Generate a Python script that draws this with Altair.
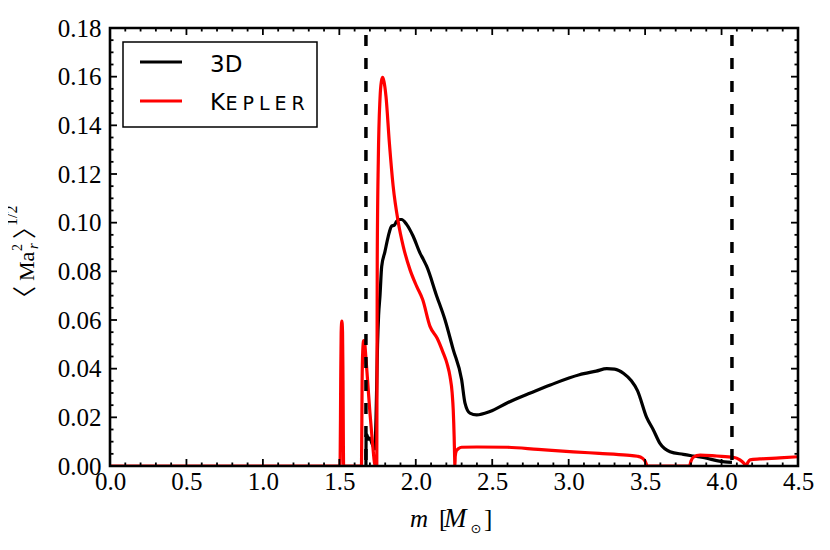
import altair as alt
import pandas as pd

# ---------------- data ----------------
kepler_m = [0.0, 1.505, 1.509, 1.512, 1.5165, 1.521, 1.524, 1.528,
            1.645, 1.649, 1.653, 1.659, 1.665, 1.672, 1.685, 1.700, 1.715, 1.725, 1.733,
            1.745, 1.748, 1.755, 1.766, 1.775, 1.783, 1.792, 1.805, 1.827, 1.852, 1.886,
            1.918, 1.962, 2.006, 2.045, 2.093, 2.140, 2.180, 2.205, 2.224, 2.238, 2.245,
            2.251, 2.254, 2.256, 2.258, 2.265, 2.280, 2.300, 2.400, 2.600, 2.800, 3.030,
            3.200, 3.380, 3.450, 3.480, 3.500, 3.515, 3.790, 3.800, 3.815, 3.860, 3.968,
            4.077, 4.120, 4.145, 4.160, 4.172, 4.186, 4.250, 4.380, 4.500]
kepler_v = [0.0, 0.0, 0.035, 0.055, 0.0595, 0.055, 0.035, 0.0,
            0.0, 0.035, 0.047, 0.0515, 0.051, 0.046, 0.035, 0.022, 0.011, 0.004, 0.0,
            0.0, 0.085, 0.126, 0.151, 0.158, 0.1597, 0.158, 0.152, 0.133, 0.115, 0.100,
            0.0903, 0.0807, 0.0738, 0.0684, 0.0574, 0.0525, 0.0464, 0.042, 0.0368, 0.030, 0.023,
            0.012, 0.004, 0.0, 0.004, 0.0062, 0.0072, 0.0077, 0.0078, 0.0077, 0.0068, 0.0058,
            0.0052, 0.0045, 0.0040, 0.0033, 0.0020, 0.0, 0.0, 0.0020, 0.0036, 0.0045, 0.0041,
            0.0036, 0.0025, 0.0012, 0.0, 0.0015, 0.0025, 0.0029, 0.0033, 0.0038]

d3_m = [1.674, 1.675, 1.680, 1.690, 1.700, 1.712, 1.722, 1.732, 1.740, 1.745, 1.750,
        1.757, 1.766, 1.777, 1.798, 1.820, 1.842, 1.860, 1.875, 1.895, 1.907, 1.940,
        1.983, 2.027, 2.050, 2.071, 2.136, 2.191, 2.245, 2.300, 2.322, 2.354, 2.398,
        2.485, 2.600, 2.750, 2.880, 3.070, 3.180, 3.250, 3.300, 3.360, 3.410, 3.450,
        3.510, 3.554, 3.597, 3.663, 3.750, 3.815, 3.903, 3.968, 4.020, 4.068]
d3_v = [0.0, 0.0125, 0.0128, 0.011, 0.0115, 0.0095, 0.008, 0.007, 0.020, 0.035, 0.050,
        0.062, 0.070, 0.082, 0.088, 0.0944, 0.0986, 0.099, 0.1006, 0.1013, 0.1013, 0.0993,
        0.0944, 0.0876, 0.0848, 0.0821, 0.070, 0.0601, 0.0478, 0.0354, 0.0258, 0.0217, 0.021,
        0.0224, 0.026, 0.030, 0.0333, 0.0375, 0.039, 0.040, 0.0398, 0.038, 0.035, 0.031,
        0.020, 0.0148, 0.0093, 0.0059, 0.0048, 0.0041, 0.0032, 0.0022, 0.0017, 0.0015]

dashed_m = [1.674, 4.068]

x_major = [0.0, 0.5, 1.0, 1.5, 2.0, 2.5, 3.0, 3.5, 4.0, 4.5]
x_minor = [round(i * 0.1, 1) for i in range(46) if i % 5 != 0]
y_major = [0.0, 0.02, 0.04, 0.06, 0.08, 0.10, 0.12, 0.14, 0.16, 0.18]
y_minor = [round(i * 0.005, 3) for i in range(37) if i % 4 != 0]

legend_labels = ["3D", "Kepler"]
series_colors = ["#000000", "#ff0000"]

# ---------------- layout ----------------
W, H = 688, 438
SERIF = "Liberation Serif"
SANS = "DejaVu Sans"

xs = alt.Scale(domain=[0, 4.5], nice=False, zero=False)
ys = alt.Scale(domain=[0, 0.18], nice=False, zero=False)

x_axis = alt.Axis(values=x_major, format=".1f", title=None, grid=False, ticks=False, domain=False,
                  labelFont=SERIF, labelFontSize=25, labelPadding=3, labelColor="black",
                  labelFlush=False, labelOverlap=False)
y_axis = alt.Axis(values=y_major, format=".2f", title=None, grid=False, ticks=False, domain=False,
                  labelFont=SERIF, labelFontSize=25, labelPadding=9, labelColor="black",
                  labelFlush=False, labelOverlap=False)

df3 = pd.DataFrame({"m": d3_m, "v": d3_v, "i": list(range(len(d3_m)))})
dfk = pd.DataFrame({"m": kepler_m, "v": kepler_v, "i": list(range(len(kepler_m)))})

line3 = alt.Chart(df3).mark_line(color=series_colors[0], strokeWidth=3.2, clip=True,
                                 interpolate="monotone").encode(
    x=alt.X("m:Q", scale=xs, axis=x_axis),
    y=alt.Y("v:Q", scale=ys, axis=y_axis),
    order="i:Q",
)

linek = alt.Chart(dfk).mark_line(color=series_colors[1], strokeWidth=3.2, clip=True,
                                 interpolate="monotone").encode(
    x=alt.X("m:Q", scale=xs, axis=x_axis),
    y=alt.Y("v:Q", scale=ys, axis=y_axis),
    order="i:Q",
)

dashed = alt.Chart(pd.DataFrame({"m": dashed_m})).mark_rule(
    color="black", strokeWidth=3.5, strokeDash=[11, 12], strokeDashOffset=16
).encode(x=alt.X("m:Q", scale=xs, axis=x_axis), y=alt.value(0), y2=alt.value(H))


def xticks(vals, length, top):
    y0 = 0 if top else H
    y1 = length if top else H - length
    return alt.Chart(pd.DataFrame({"m": vals})).mark_rule(color="black", strokeWidth=1.8).encode(
        x=alt.X("m:Q", scale=xs, axis=x_axis), y=alt.value(y0), y2=alt.value(y1))


def yticks(vals, length, right):
    x0 = W if right else 0
    x1 = W - length if right else length
    return alt.Chart(pd.DataFrame({"v": vals})).mark_rule(color="black", strokeWidth=1.8).encode(
        y=alt.Y("v:Q", scale=ys, axis=y_axis), x=alt.value(x0), x2=alt.value(x1))


ticks = [
    xticks(x_major, 7, False), xticks(x_minor, 3.5, False),
    xticks(x_major, 7, True), xticks(x_minor, 3.5, True),
    yticks(y_major, 7, False), yticks(y_minor, 3.5, False),
    yticks(y_major, 7, True), yticks(y_minor, 3.5, True),
]

one = pd.DataFrame({"a": [0]})

frame = alt.Chart(one).mark_rect(filled=False, stroke="black", strokeWidth=2.6).encode(
    x=alt.value(0), x2=alt.value(W), y=alt.value(0), y2=alt.value(H))


def txt(s, x, y, size, font=SERIF, style="normal", angle=0, align="left", baseline="alphabetic"):
    return alt.Chart(pd.DataFrame({"t": [s]})).mark_text(
        font=font, fontSize=size, fontStyle=style, angle=angle, align=align,
        baseline=baseline, color="black"
    ).encode(text="t:N", x=alt.value(x), y=alt.value(y))


# legend
leg_box = alt.Chart(one).mark_rect(fill="white", stroke="black", strokeWidth=1.5).encode(
    x=alt.value(13), x2=alt.value(207), y=alt.value(14), y2=alt.value(99))
leg_line0 = alt.Chart(one).mark_rule(color=series_colors[0], strokeWidth=3.2).encode(
    x=alt.value(30), x2=alt.value(72), y=alt.value(34))
leg_line1 = alt.Chart(one).mark_rule(color=series_colors[1], strokeWidth=3.2).encode(
    x=alt.value(30), x2=alt.value(72), y=alt.value(73))
leg_texts = [txt(legend_labels[0], 100, 44, 23, font=SANS),
             txt(legend_labels[1][0].upper(), 100, 82, 23, font=SANS)]
rest = legend_labels[1][1:].upper()
rest_x = [115.5, 132.5, 149.0, 164.5, 181.5]
for ch, xx in zip(rest, rest_x):
    leg_texts.append(txt(ch, xx, 82, 19, font=SANS))

# y-axis title  <Ma_r^2>^{1/2}
BR = "Noto Sans CJK JP"
ytitle = [
    txt("\u3008", -77, 282, 24, font=BR, angle=270),
    txt("Ma", -76, 253, 22, angle=270),
    txt("2", -88, 223, 14, angle=270),
    txt("r", -72.5, 221, 15, style="italic", angle=270),
    txt("\u3009", -77, 211, 24, font=BR, angle=270),
    txt("1/2", -93, 198, 16, angle=270),
]

# x-axis title  m [M_sun]
xtitle = [
    txt("m", 300, 499, 25, style="italic"),
    txt("[", 329, 499, 25),
    txt("M", 334, 499, 27, style="italic"),
    txt("\u2299", 366, 501, 13, font=SANS, align="center", baseline="middle"),
    txt("]", 374, 499, 25),
]

chart = alt.layer(
    line3, linek, dashed, *ticks, frame, leg_box, leg_line0, leg_line1, *leg_texts, *ytitle, *xtitle
).properties(
    width=W, height=H,
    autosize=alt.AutoSizeParams(type="none"),
    padding={"left": 102, "top": 20, "right": 24, "bottom": 80},
    background="white",
).configure_view(stroke="transparent")

chart.save("out.html", embed_options={"renderer": "svg", "actions": False})
